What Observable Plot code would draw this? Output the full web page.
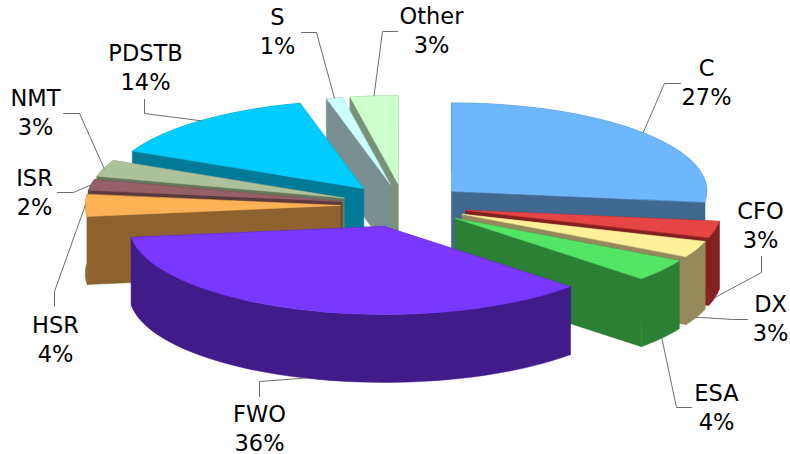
<!DOCTYPE html>
<html>
<head>
<meta charset="utf-8">
<script src="https://cdn.jsdelivr.net/npm/d3@7"></script>
<script src="https://cdn.jsdelivr.net/npm/@observablehq/plot@0.6"></script>
<style>
  html, body { margin: 0; padding: 0; background: #fff; }
  svg { display: block; }
</style>
</head>
<body>
<div id="chart"></div>
<script>
// Shares of the total, in percent, clockwise from twelve o'clock.
const sliceNames = ["C", "CFO", "DX", "ESA", "FWO", "HSR", "ISR", "NMT", "PDSTB", "S", "Other"];
const shares = [27, 3, 3, 4, 36, 4, 2, 3, 14, 1, 3];
const topColors = ["#6fb7fd", "#e64545", "#fff19a", "#55e566", "#7a38ff", "#ffb155", "#966068", "#adc29a", "#00ccff", "#ccffff", "#ccffcc"];
const sideColors = ["#41698f", "#842020", "#93895a", "#2c8035", "#411b8a", "#8d622f", "#5a3a3e", "#66785a", "#007a96", "#7a9090", "#789278"];

// Label centres and leader-line bends for each slice.
const labelX = [706, 760, 770, 716, 259, 55, 34, 35, 145, 277, 431];
const labelY = [81, 224, 317, 406, 427, 338, 191, 111, 66, 30, 29];
const leaderBends = [
  [[664, 83], [680, 83]],
  [[761, 272], [761, 256]],
  [[732, 319], [747, 319]],
  [[676, 407], [691, 407]],
  [[259, 381], [259, 396]],
  [[54, 291], [54, 306]],
  [[73, 192], [57, 192]],
  [[79, 113], [63, 113]],
  [[144, 113], [144, 99]],
  [[316, 32], [301, 32]],
  [[382, 31], [397, 31]]
];

// Tilted pie geometry.
const width = 790, height = 454;
const centerX = 403.5, centerY = 205;
const radiusX = 255, radiusY = 88, depth = 68, explode = 0.25;

const turn = 2 * Math.PI / d3.sum(shares);
const cumulative = d3.cumsum(shares);
const slices = sliceNames.map((name, i) => {
  const a0 = (cumulative[i] - shares[i]) * turn;
  const a1 = cumulative[i] * turn;
  const mid = (a0 + a1) / 2;
  const apexX = centerX + explode * radiusX * Math.sin(mid);
  const apexY = centerY - explode * radiusY * Math.cos(mid);
  const rimPoint = (a, drop = 0) => ({
    x: apexX + radiusX * Math.sin(a),
    y: apexY - radiusY * Math.cos(a) + drop
  });
  const arc = (drop) => d3.range(0, 61).map(k => rimPoint(a0 + (a1 - a0) * k / 60, drop));
  const apex = (drop) => ({x: apexX, y: apexY + drop});
  return {i, name, share: shares[i], mid, rimPoint, arc, apex};
});

// Far slices are painted first, the nearest one last.
const paintOrder = d3.sort(slices, s => -Math.cos(s.mid));

const faces = [];
let faceId = 0;
function addFace(points, color) {
  const id = faceId++;
  for (const p of points) faces.push({...p, id, color});
}
for (const s of paintOrder) {
  const side = sideColors[s.i];
  const top = s.arc(0), bottom = s.arc(depth);
  addFace([s.apex(0), top[0], bottom[0], s.apex(depth)], side);
  addFace([s.apex(0), top[60], bottom[60], s.apex(depth)], side);
  addFace([...top, ...bottom.slice().reverse()], side);
  addFace([s.apex(0), ...top], topColors[s.i]);
}

// Leaders leave the outer edge at the middle of each slice.
const leaders = slices.flatMap(s => {
  const start = s.rimPoint(s.mid, Math.cos(s.mid) < -0.01 ? depth : 0);
  const bends = leaderBends[s.i].map(([x, y]) => ({x, y}));
  return [start, ...bends].map(p => ({...p, name: s.name}));
});

const labels = slices.map(s => ({
  x: labelX[s.i],
  y: labelY[s.i],
  text: `${s.name}\n${s.share}%`
}));

const chart = Plot.plot({
  width,
  height,
  margin: 0,
  x: {domain: [0, width], range: [0, width], axis: null},
  y: {domain: [0, height], range: [0, height], axis: null},
  color: {type: "identity"},
  marks: [
    Plot.line(faces, {
      x: "x", y: "y", z: "id",
      fill: "color", stroke: "color", strokeWidth: 0.5,
      curve: "linear-closed"
    }),
    Plot.line(leaders, {
      x: "x", y: "y", z: "name",
      stroke: "#6e6e6e", strokeWidth: 1, curve: "linear"
    }),
    Plot.text(labels, {
      x: "x", y: "y", text: "text",
      fontFamily: "DejaVu Sans", fontSize: 22.5, lineHeight: 1.26,
      fill: "#000", textAnchor: "middle", lineAnchor: "middle"
    })
  ]
});
document.getElementById("chart").append(chart);
</script>
</body>
</html>
